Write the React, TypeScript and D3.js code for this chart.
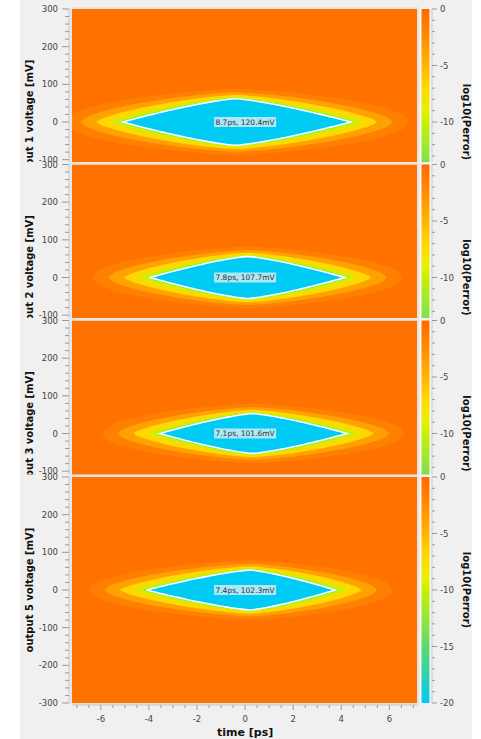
import React from "react";
import * as d3 from "d3";

// eye diagram results, one entry per output panel
const panelTitles = ["output 1 voltage [mV]", "output 2 voltage [mV]", "output 3 voltage [mV]", "output 5 voltage [mV]"];
const eyeLeft = [-5.1, -3.95, -3.55, -4.1];
const eyeRight = [4.4, 4.15, 4.25, 3.75];
const eyeApex = [-0.4, 0.1, 0.3, 0.2];
const eyeTop = [62, 56, 53, 53];
const eyeBottom = [-62, -56, -53, -53];
const eyeLabels = ["8.7ps, 120.4mV", "7.8ps, 107.7mV", "7.1ps, 101.6mV", "7.4ps, 102.3mV"];

// error contour bands around the eye (outermost first)
const bandLevels = [-1.6, -3.8, -7, -9.8, -13.5];
const bandDx = [2.4, 1.75, 1.1, 0.5, 0.18];
const bandDy = [26, 17, 10, 5, 2];

const xTicks = [-6, -4, -2, 0, 2, 4, 6];
const yTicks = [-300, -200, -100, 0, 100, 200, 300];
const cbTicks = [0, -5, -10, -15, -20];

// colormap of log10(Perror)
const cmapStops = [0, -1, -3, -5, -7, -9, -10, -12, -15, -17.5, -20];
const cmapColors = ["#ff6800", "#ff7600", "#ff9400", "#ffb400", "#ffd800", "#e8f000", "#c8f000", "#a0e830", "#60d870", "#30d0b0", "#00cbf5"];

const W = 481, H = 739;
const tops = [9, 164.5, 320.5, 477];
const plotH = 226;
const font = "DejaVu Sans, Verdana, sans-serif";

const color = d3.scaleLinear<string>().domain(cmapStops).range(cmapColors).interpolate(d3.interpolateRgb);

function lensPoints(L: number, R: number, C: number, T: number, B: number, p: number, q: number) {
  const n = 80;
  const f = (t: number) => {
    const u = t < C ? (C - t) / (C - L) : (t - C) / (R - C);
    return Math.pow(Math.max(0, 1 - Math.pow(Math.min(1, u), p)), q);
  };
  const pts: [number, number][] = [];
  for (let i = 0; i <= n; i++) {
    const t = L + ((R - L) * i) / n;
    pts.push([t, T * f(t)]);
  }
  for (let i = n - 1; i > 0; i--) {
    const t = L + ((R - L) * i) / n;
    pts.push([t, B * f(t)]);
  }
  return pts;
}

const Panel = ({ i }: { i: number }) => {
  const top = tops[i];
  const x = d3.scaleLinear().domain([-7.2, 7.15]).range([72, 417]);
  const y = d3.scaleLinear().domain([-300, 300]).range([top + plotH, top]);
  const cb = d3.scaleLinear().domain([-20, 0]).range([top + plotH, top]);
  const line = d3.line<[number, number]>().x(d => x(d[0])).y(d => y(d[1])).curve(d3.curveLinearClosed);
  const L = eyeLeft[i], R = eyeRight[i], C = eyeApex[i];
  const clipId = `clip${i}`;
  const gradId = `grad${i}`;
  const yMinor = d3.range(-300, 301, 20);
  const xMinor = d3.range(-7, 7.01, 0.5);
  const cbMinor = d3.range(-20, 0.01, 1);
  return (
    <g>
      <defs>
        <clipPath id={clipId}>
          <rect x={72} y={top} width={345} height={plotH} />
        </clipPath>
        <linearGradient id={gradId} x1="0" y1="1" x2="0" y2="0">
          {d3.range(0, 21).map(k => (
            <stop key={k} offset={`${(k / 20) * 100}%`} stopColor={color(-20 + k)} />
          ))}
        </linearGradient>
      </defs>
      <rect x={20} y={i === 0 ? 0 : top - 2.5} width={452} height={H} fill="#f0f0f0" />
      <rect x={71} y={top - 1} width={347} height={plotH + 2} fill="none" stroke="#e4e4e4" strokeWidth={2} />
      <g clipPath={`url(#${clipId})`}>
        <rect x={72} y={top} width={345} height={plotH} fill={color(-0.7)} />
        {bandLevels.map((lv, k) => (
          <path
            key={k}
            d={line(lensPoints(L - bandDx[k], R + bandDx[k], C, eyeTop[i] + bandDy[k], eyeBottom[i] - bandDy[k], 1.35, 0.5 + k * 0.12)) || ""}
            fill={color(lv)}
          />
        ))}
        <path
          d={line(lensPoints(L, R, C, eyeTop[i], eyeBottom[i], 1.3, 1)) || ""}
          fill={color(-20)}
          stroke="#ffffff"
          strokeWidth={1.6}
        />
        <rect x={x(0) - 31} y={y(0) - 5} width={62} height={10} fill="#e6f2f6" opacity={0.75} />
        <text x={x(0)} y={y(0) + 2.8} textAnchor="middle" fontSize={7.5} fontFamily={font} fill="#333">
          {eyeLabels[i]}
        </text>
      </g>
      {/* y axis */}
      <line x1={69} x2={69} y1={top} y2={top + plotH} stroke="#c8c8c8" />
      {yMinor.map(v => (
        <line key={v} x1={v % 100 === 0 ? 62 : 65} x2={69} y1={y(v)} y2={y(v)} stroke="#999" />
      ))}
      {yTicks.map(v => (
        <text key={v} x={58} y={y(v) + 3} textAnchor="end" fontSize={8.5} fontFamily={font} fill="#444">
          {v}
        </text>
      ))}
      <text
        transform={`translate(33,${y(0)}) rotate(-90)`}
        textAnchor="middle"
        fontSize={10}
        fontWeight="bold"
        fontFamily={font}
        fill="#111"
      >
        {panelTitles[i]}
      </text>
      {/* x axis */}
      <line x1={72} x2={417} y1={top + plotH + 2} y2={top + plotH + 2} stroke="#c8c8c8" />
      {xMinor.map(v => (
        <line key={v} x1={x(v)} x2={x(v)} y1={top + plotH + 2} y2={top + plotH + (Math.abs(v % 2) < 1e-9 ? 7 : 5)} stroke="#999" />
      ))}
      {xTicks.map(v => (
        <text key={v} x={x(v)} y={top + plotH + 19} textAnchor="middle" fontSize={8.5} fontFamily={font} fill="#444">
          {v}
        </text>
      ))}
      <text x={x(0)} y={top + plotH + 33} textAnchor="middle" fontSize={11} fontWeight="bold" fontFamily={font} fill="#111">
        time [ps]
      </text>
      {/* colorbar */}
      <rect x={420.5} y={top - 0.5} width={10} height={plotH + 1} fill="#fafafa" />
      <rect x={421.5} y={top} width={8} height={plotH} fill={`url(#${gradId})`} />
      <line x1={432} x2={432} y1={top} y2={top + plotH} stroke="#c8c8c8" />
      {cbMinor.map(v => (
        <line key={v} x1={432} x2={v % 5 === 0 ? 437 : 435} y1={cb(v)} y2={cb(v)} stroke="#999" />
      ))}
      {cbTicks.map(v => (
        <text key={v} x={440} y={cb(v) + 3} fontSize={8.5} fontFamily={font} fill="#444">
          {v}
        </text>
      ))}
      <text
        transform={`translate(463,${top + plotH / 2}) rotate(90)`}
        textAnchor="middle"
        fontSize={10}
        fontWeight="bold"
        fontFamily={font}
        fill="#111"
      >
        log10(Perror)
      </text>
    </g>
  );
};

export default function App() {
  return (
    <svg width={W} height={H} style={{ display: "block", position: "absolute", left: 0, top: 0 }}>
      <rect x={0} y={0} width={W} height={H} fill="#ffffff" />
      {tops.map((_, i) => (
        <Panel key={i} i={i} />
      ))}
    </svg>
  );
}
